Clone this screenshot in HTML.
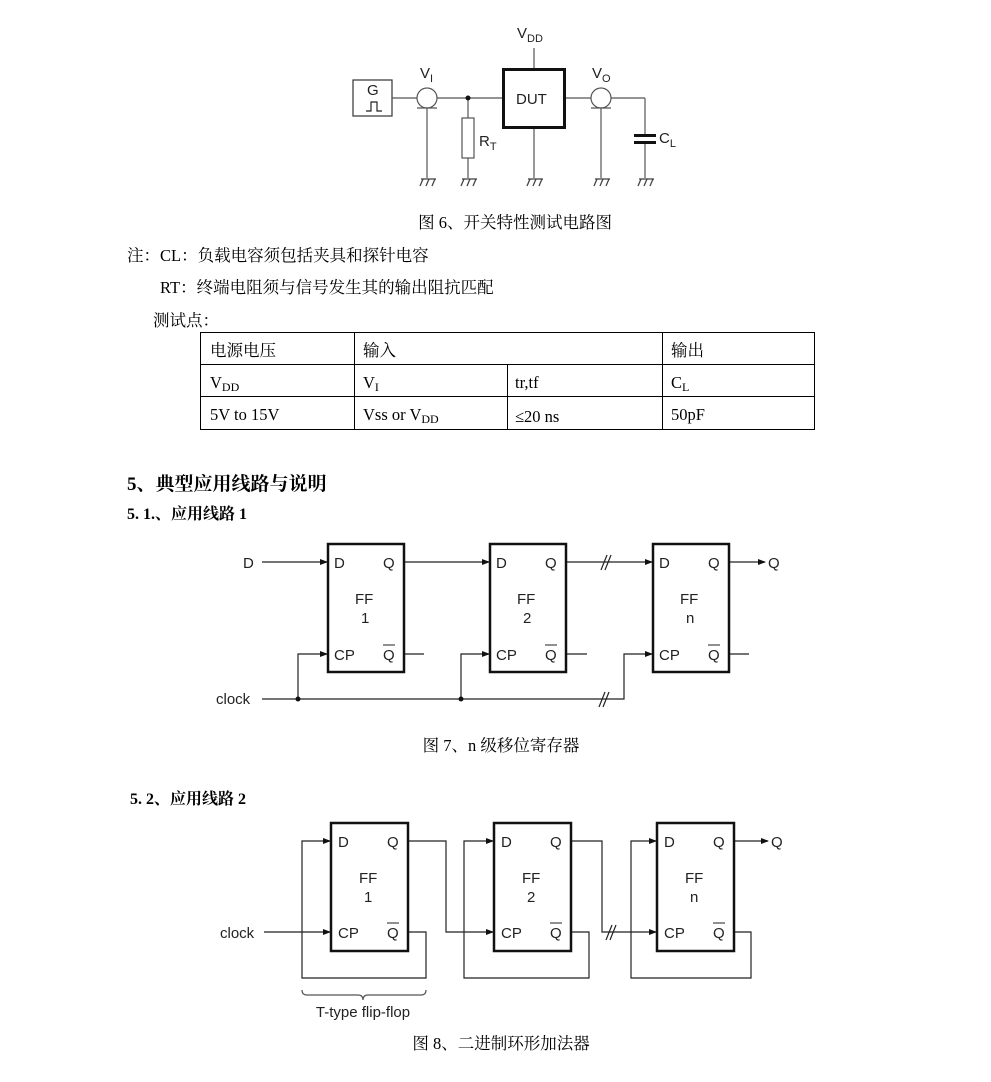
<!DOCTYPE html>
<html><head><meta charset="utf-8"><style>
html,body{margin:0;padding:0;background:#fff;}
svg{display:block;}
.s{font-family:"Liberation Serif","Noto Serif CJK SC","Noto Sans CJK SC",serif;font-size:16.5px;fill:#000;}
.b{font-family:"Liberation Serif","Noto Serif CJK SC","Noto Sans CJK SC",serif;font-weight:bold;fill:#000;}
.a{font-family:"Liberation Sans",sans-serif;font-size:15px;fill:#222;}
</style></head><body>
<svg width="991" height="1082" viewBox="0 0 991 1082" xmlns="http://www.w3.org/2000/svg">
<defs>
<marker id="ar" markerWidth="8" markerHeight="8" refX="7" refY="4" orient="auto" markerUnits="userSpaceOnUse"><path d="M0,1 L8,4 L0,7 z" fill="#111"/></marker>
<g id="gnd" stroke="#444" stroke-width="1.3" fill="none"><line x1="-6" y1="0" x2="9" y2="0"/><line x1="-4" y1="0" x2="-7" y2="7"/><line x1="2" y1="0" x2="-1" y2="7"/><line x1="8" y1="0" x2="5" y2="7"/></g>
</defs>
<!-- Circuit 1 -->
<g stroke="#555" stroke-width="1.2" fill="none">
<rect x="353" y="80" width="39" height="36" stroke="#333"/>
<path d="M366,111 h5 v-9 h6 v9 h5" stroke="#222"/>
<line x1="392" y1="98" x2="502" y2="98"/>
<line x1="565" y1="98" x2="645" y2="98"/>
<line x1="645" y1="98" x2="645" y2="136"/>
<line x1="645" y1="142" x2="645" y2="178"/>
<line x1="427" y1="108" x2="427" y2="178"/>
<line x1="601" y1="108" x2="601" y2="178"/>
<line x1="468" y1="98" x2="468" y2="118"/>
<line x1="468" y1="158" x2="468" y2="178"/>
<line x1="534" y1="128" x2="534" y2="178"/>
<line x1="534" y1="48" x2="534" y2="68"/>
<circle cx="427" cy="98" r="10" fill="#fff"/>
<line x1="417" y1="108" x2="437" y2="108"/>
<circle cx="601" cy="98" r="10" fill="#fff"/>
<line x1="591" y1="108" x2="611" y2="108"/>
<rect x="462" y="118" width="12" height="40" fill="#fff"/>
</g>
<circle cx="468" cy="98" r="2.5" fill="#111"/>
<rect x="503.5" y="69.5" width="61" height="58" fill="none" stroke="#111" stroke-width="3"/>
<rect x="634" y="134" width="22" height="3" fill="#111"/><rect x="634" y="141" width="22" height="3" fill="#111"/>
<use href="#gnd" x="427" y="179"/><use href="#gnd" x="468" y="179"/><use href="#gnd" x="534" y="179"/><use href="#gnd" x="601" y="179"/><use href="#gnd" x="645" y="179"/>
<text class="a" x="367" y="95" font-size="14">G</text>
<text class="a" x="516" y="104" font-size="16">DUT</text>
<text class="a" x="517" y="38" font-size="15">V<tspan font-size="11" dy="4">DD</tspan></text>
<text class="a" x="420" y="78">V<tspan font-size="11" dy="4">I</tspan></text>
<text class="a" x="592" y="78">V<tspan font-size="11" dy="4">O</tspan></text>
<text class="a" x="479" y="146" font-size="14">R<tspan font-size="11" dy="4">T</tspan></text>
<text class="a" x="659" y="143" font-size="14">C<tspan font-size="11" dy="4">L</tspan></text>
<!-- texts -->
<text class="s" x="515" y="228" text-anchor="middle" font-size="17">图 6、开关特性测试电路图</text>
<text class="s" x="127" y="261">注：CL：负载电容须包括夹具和探针电容</text>
<text class="s" x="160" y="293">RT：终端电阻须与信号发生其的输出阻抗匹配</text>
<text class="s" x="153" y="326">测试点：</text>
<g stroke="#000" stroke-width="1" fill="none">
<rect x="200.5" y="332.5" width="614" height="97"/>
<line x1="200" y1="364.5" x2="815" y2="364.5"/>
<line x1="200" y1="396.5" x2="815" y2="396.5"/>
<line x1="354.5" y1="332" x2="354.5" y2="430"/>
<line x1="507.5" y1="364" x2="507.5" y2="430"/>
<line x1="662.5" y1="332" x2="662.5" y2="430"/>
</g>
<text class="s" x="210" y="356">电源电压</text><text class="s" x="363" y="356">输入</text><text class="s" x="671" y="356">输出</text>
<text class="s" x="210" y="388">V<tspan font-size="12" dy="3">DD</tspan></text>
<text class="s" x="363" y="388">V<tspan font-size="12" dy="3">I</tspan></text>
<text class="s" x="515" y="388">tr,tf</text>
<text class="s" x="671" y="388">C<tspan font-size="12" dy="3">L</tspan></text>
<text class="s" x="210" y="420">5V to 15V</text>
<text class="s" x="363" y="420">Vss or V<tspan font-size="12" dy="3">DD</tspan></text>
<text class="s" x="515" y="422">≤20 ns</text>
<text class="s" x="671" y="420">50pF</text>
<text class="b" x="127" y="490" font-size="19">5、典型应用线路与说明</text>
<text class="b" x="127" y="519" font-size="16">5. 1.、应用线路 1</text>
<!-- Circuit 2 -->
<g stroke="#222" stroke-width="1.2" fill="none">
<line x1="262" y1="562" x2="327" y2="562" marker-end="url(#ar)"/>
<line x1="405" y1="562" x2="489" y2="562" marker-end="url(#ar)"/>
<line x1="567" y1="562" x2="652" y2="562" marker-end="url(#ar)"/>
<line x1="729" y1="562" x2="765" y2="562" marker-end="url(#ar)"/>
<line x1="404" y1="654" x2="424" y2="654"/><line x1="566" y1="654" x2="587" y2="654"/><line x1="729" y1="654" x2="749" y2="654"/>
<polyline points="262,699 624,699 624,654 652,654" marker-end="url(#ar)"/>
<polyline points="298,699 298,654 327,654" marker-end="url(#ar)"/>
<polyline points="461,699 461,654 489,654" marker-end="url(#ar)"/>
<line x1="601" y1="570" x2="607" y2="555"/><line x1="605" y1="570" x2="611" y2="555"/>
<line x1="599" y1="707" x2="605" y2="692"/><line x1="603" y1="707" x2="609" y2="692"/>
</g>
<circle cx="298" cy="699" r="2.5" fill="#111"/><circle cx="461" cy="699" r="2.5" fill="#111"/>
<g fill="none" stroke="#111" stroke-width="2.5">
<rect x="328" y="544" width="76" height="128"/><rect x="490" y="544" width="76" height="128"/><rect x="653" y="544" width="76" height="128"/>
</g>
<g class="a">
<text x="243" y="568">D</text><text x="216" y="704">clock</text><text x="768" y="568">Q</text>
<text x="334" y="568">D</text><text x="383" y="568">Q</text><text x="355" y="604">FF</text><text x="361" y="623">1</text><text x="334" y="660">CP</text><text x="383" y="660">Q</text><line x1="383" y1="645" x2="395" y2="645" stroke="#222"/>
<text x="496" y="568">D</text><text x="545" y="568">Q</text><text x="517" y="604">FF</text><text x="523" y="623">2</text><text x="496" y="660">CP</text><text x="545" y="660">Q</text><line x1="545" y1="645" x2="557" y2="645" stroke="#222"/>
<text x="659" y="568">D</text><text x="708" y="568">Q</text><text x="680" y="604">FF</text><text x="686" y="623">n</text><text x="659" y="660">CP</text><text x="708" y="660">Q</text><line x1="708" y1="645" x2="720" y2="645" stroke="#222"/>
</g>
<text class="s" x="501" y="751" text-anchor="middle" font-size="17">图 7、n 级移位寄存器</text>
<text class="b" x="130" y="804" font-size="16">5. 2、应用线路 2</text>
<!-- Circuit 3 -->
<g stroke="#222" stroke-width="1.2" fill="none">
<line x1="264" y1="932" x2="330" y2="932" marker-end="url(#ar)"/>
<polyline points="408,932 426,932 426,978 302,978 302,841 330,841" marker-end="url(#ar)"/>
<polyline points="408,841 446,841 446,932 493,932" marker-end="url(#ar)"/>
<polyline points="571,932 589,932 589,978 464,978 464,841 493,841" marker-end="url(#ar)"/>
<polyline points="571,841 602,841 602,932 656,932" marker-end="url(#ar)"/>
<polyline points="733,932 751,932 751,978 631,978 631,841 656,841" marker-end="url(#ar)"/>
<line x1="733" y1="841" x2="768" y2="841" marker-end="url(#ar)"/>
<line x1="606" y1="940" x2="612" y2="925"/><line x1="610" y1="940" x2="616" y2="925"/>
<path d="M302,990 q0,5 5,5 h51 q5,0 5,5 q0,-5 5,-5 h53 q5,0 5,-5" stroke="#555"/>
</g>
<g fill="none" stroke="#111" stroke-width="2.5">
<rect x="331" y="823" width="77" height="128"/><rect x="494" y="823" width="77" height="128"/><rect x="657" y="823" width="77" height="128"/>
</g>
<g class="a">
<text x="220" y="938">clock</text><text x="771" y="847">Q</text>
<text x="338" y="847">D</text><text x="387" y="847">Q</text><text x="359" y="883">FF</text><text x="364" y="902">1</text><text x="338" y="938">CP</text><text x="387" y="938">Q</text><line x1="387" y1="923" x2="399" y2="923" stroke="#222"/>
<text x="501" y="847">D</text><text x="550" y="847">Q</text><text x="522" y="883">FF</text><text x="527" y="902">2</text><text x="501" y="938">CP</text><text x="550" y="938">Q</text><line x1="550" y1="923" x2="562" y2="923" stroke="#222"/>
<text x="664" y="847">D</text><text x="713" y="847">Q</text><text x="685" y="883">FF</text><text x="690" y="902">n</text><text x="664" y="938">CP</text><text x="713" y="938">Q</text><line x1="713" y1="923" x2="725" y2="923" stroke="#222"/>
<text x="363" y="1017" text-anchor="middle">T-type flip-flop</text>
</g>
<text class="s" x="501" y="1049" text-anchor="middle" font-size="17">图 8、二进制环形加法器</text>
</svg>
</body></html>
